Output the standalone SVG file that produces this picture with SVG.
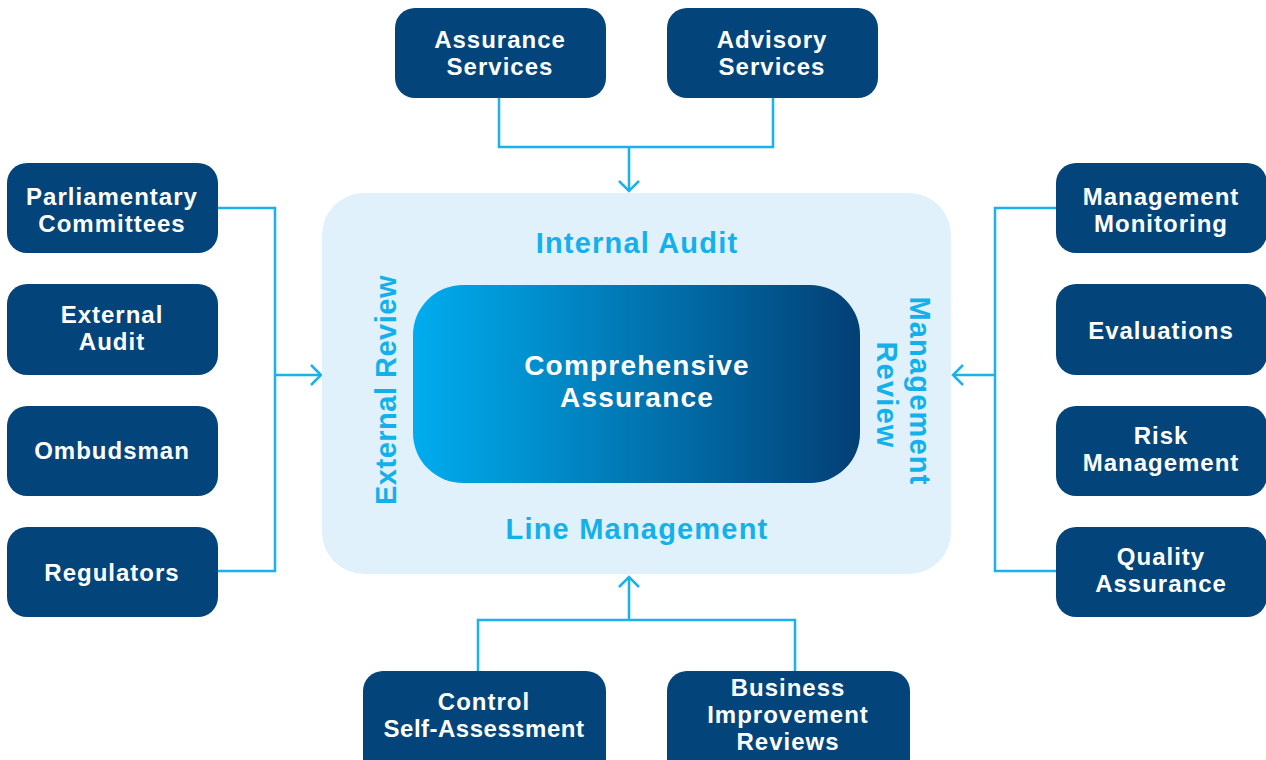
<svg xmlns="http://www.w3.org/2000/svg" width="1266" height="760" viewBox="0 0 1266 760">
<style>
.box{fill:#03457a}
.bt{fill:#fff;font-family:"Liberation Sans",Arial,sans-serif;font-weight:700;font-size:24px;letter-spacing:1px;text-anchor:middle}
.ct{fill:#fff;font-family:"Liberation Sans",Arial,sans-serif;font-weight:700;font-size:28px;letter-spacing:1.2px;text-anchor:middle}
.lt{fill:#14b0ec;font-family:"Liberation Sans",Arial,sans-serif;font-weight:700;font-size:29px;letter-spacing:1.2px;text-anchor:middle}
.con{fill:none;stroke:#1ab1ec;stroke-width:2.5}
.ah{fill:none;stroke:#1ab1ec;stroke-width:2.5}
</style>
<defs>
<linearGradient id="g" x1="0" y1="0" x2="1" y2="0">
<stop offset="0" stop-color="#00adef"/>
<stop offset="1" stop-color="#033f75"/>
</linearGradient>
</defs>
<rect width="1266" height="760" fill="#fff"/>
<g id="connectors">
<path class="con" d="M499 98V147H773V98M629 147V191"/>
<path class="ah" d="M619 181L629 191L639 181"/>
<path class="con" d="M218 208H275V571H218M275 375H321"/>
<path class="ah" d="M311 365L321 375L311 385"/>
<path class="con" d="M1056 208H995V571H1056M995 375H953"/>
<path class="ah" d="M963 365L953 375L963 385"/>
<path class="con" d="M478 671V620H795V671M629 620V577"/>
<path class="ah" d="M619 587L629 577L639 587"/>
</g>
<g id="center">
<rect x="322" y="193" width="629" height="381" rx="42" fill="#e0f1fb"/>
<rect x="413" y="285" width="447" height="198" rx="50" fill="url(#g)"/>
<text class="ct" x="637" y="375">Comprehensive<tspan x="637" dy="32">Assurance</tspan></text>
<text class="lt" x="637" y="253">Internal Audit</text>
<text class="lt" x="637" y="539">Line Management</text>
<text class="lt" style="letter-spacing:0.5px" transform="translate(396 390) rotate(-90)">External Review</text>
<text class="lt" transform="translate(910 391) rotate(90)">Management<tspan x="4" dy="33">Review</tspan></text>
</g>
<g id="n-assurance"><rect class="box" x="395" y="8" width="211" height="90" rx="20"/><text class="bt" x="500" y="48">Assurance<tspan x="500" dy="27">Services</tspan></text></g>
<g id="n-advisory"><rect class="box" x="667" y="8" width="211" height="90" rx="20"/><text class="bt" x="772" y="48">Advisory<tspan x="772" dy="27">Services</tspan></text></g>
<g id="n-parl"><rect class="box" x="7" y="163" width="211" height="90" rx="20"/><text class="bt" x="112" y="205">Parliamentary<tspan x="112" dy="27">Committees</tspan></text></g>
<g id="n-extaudit"><rect class="box" x="7" y="284" width="211" height="91" rx="20"/><text class="bt" x="112" y="323">External<tspan x="112" dy="27">Audit</tspan></text></g>
<g id="n-ombudsman"><rect class="box" x="7" y="406" width="211" height="90" rx="20"/><text class="bt" x="112" y="459">Ombudsman</text></g>
<g id="n-regulators"><rect class="box" x="7" y="527" width="211" height="90" rx="20"/><text class="bt" x="112" y="581">Regulators</text></g>
<g id="n-mgmtmon"><rect class="box" x="1056" y="163" width="211" height="90" rx="20"/><text class="bt" x="1161" y="205">Management<tspan x="1161" dy="27">Monitoring</tspan></text></g>
<g id="n-eval"><rect class="box" x="1056" y="284" width="211" height="91" rx="20"/><text class="bt" x="1161" y="339">Evaluations</text></g>
<g id="n-risk"><rect class="box" x="1056" y="406" width="211" height="90" rx="20"/><text class="bt" x="1161" y="444">Risk<tspan x="1161" dy="27">Management</tspan></text></g>
<g id="n-quality"><rect class="box" x="1056" y="527" width="211" height="90" rx="20"/><text class="bt" x="1161" y="565">Quality<tspan x="1161" dy="27">Assurance</tspan></text></g>
<g id="n-csa"><rect class="box" x="363" y="671" width="243" height="110" rx="20"/><text class="bt" x="484" y="710">Control<tspan x="484" dy="27" style="letter-spacing:0.5px">Self-Assessment</tspan></text></g>
<g id="n-bir"><rect class="box" x="667" y="671" width="243" height="110" rx="20"/><text class="bt" x="788" y="696">Business<tspan x="788" dy="27">Improvement</tspan><tspan x="788" dy="27">Reviews</tspan></text></g>
</svg>
